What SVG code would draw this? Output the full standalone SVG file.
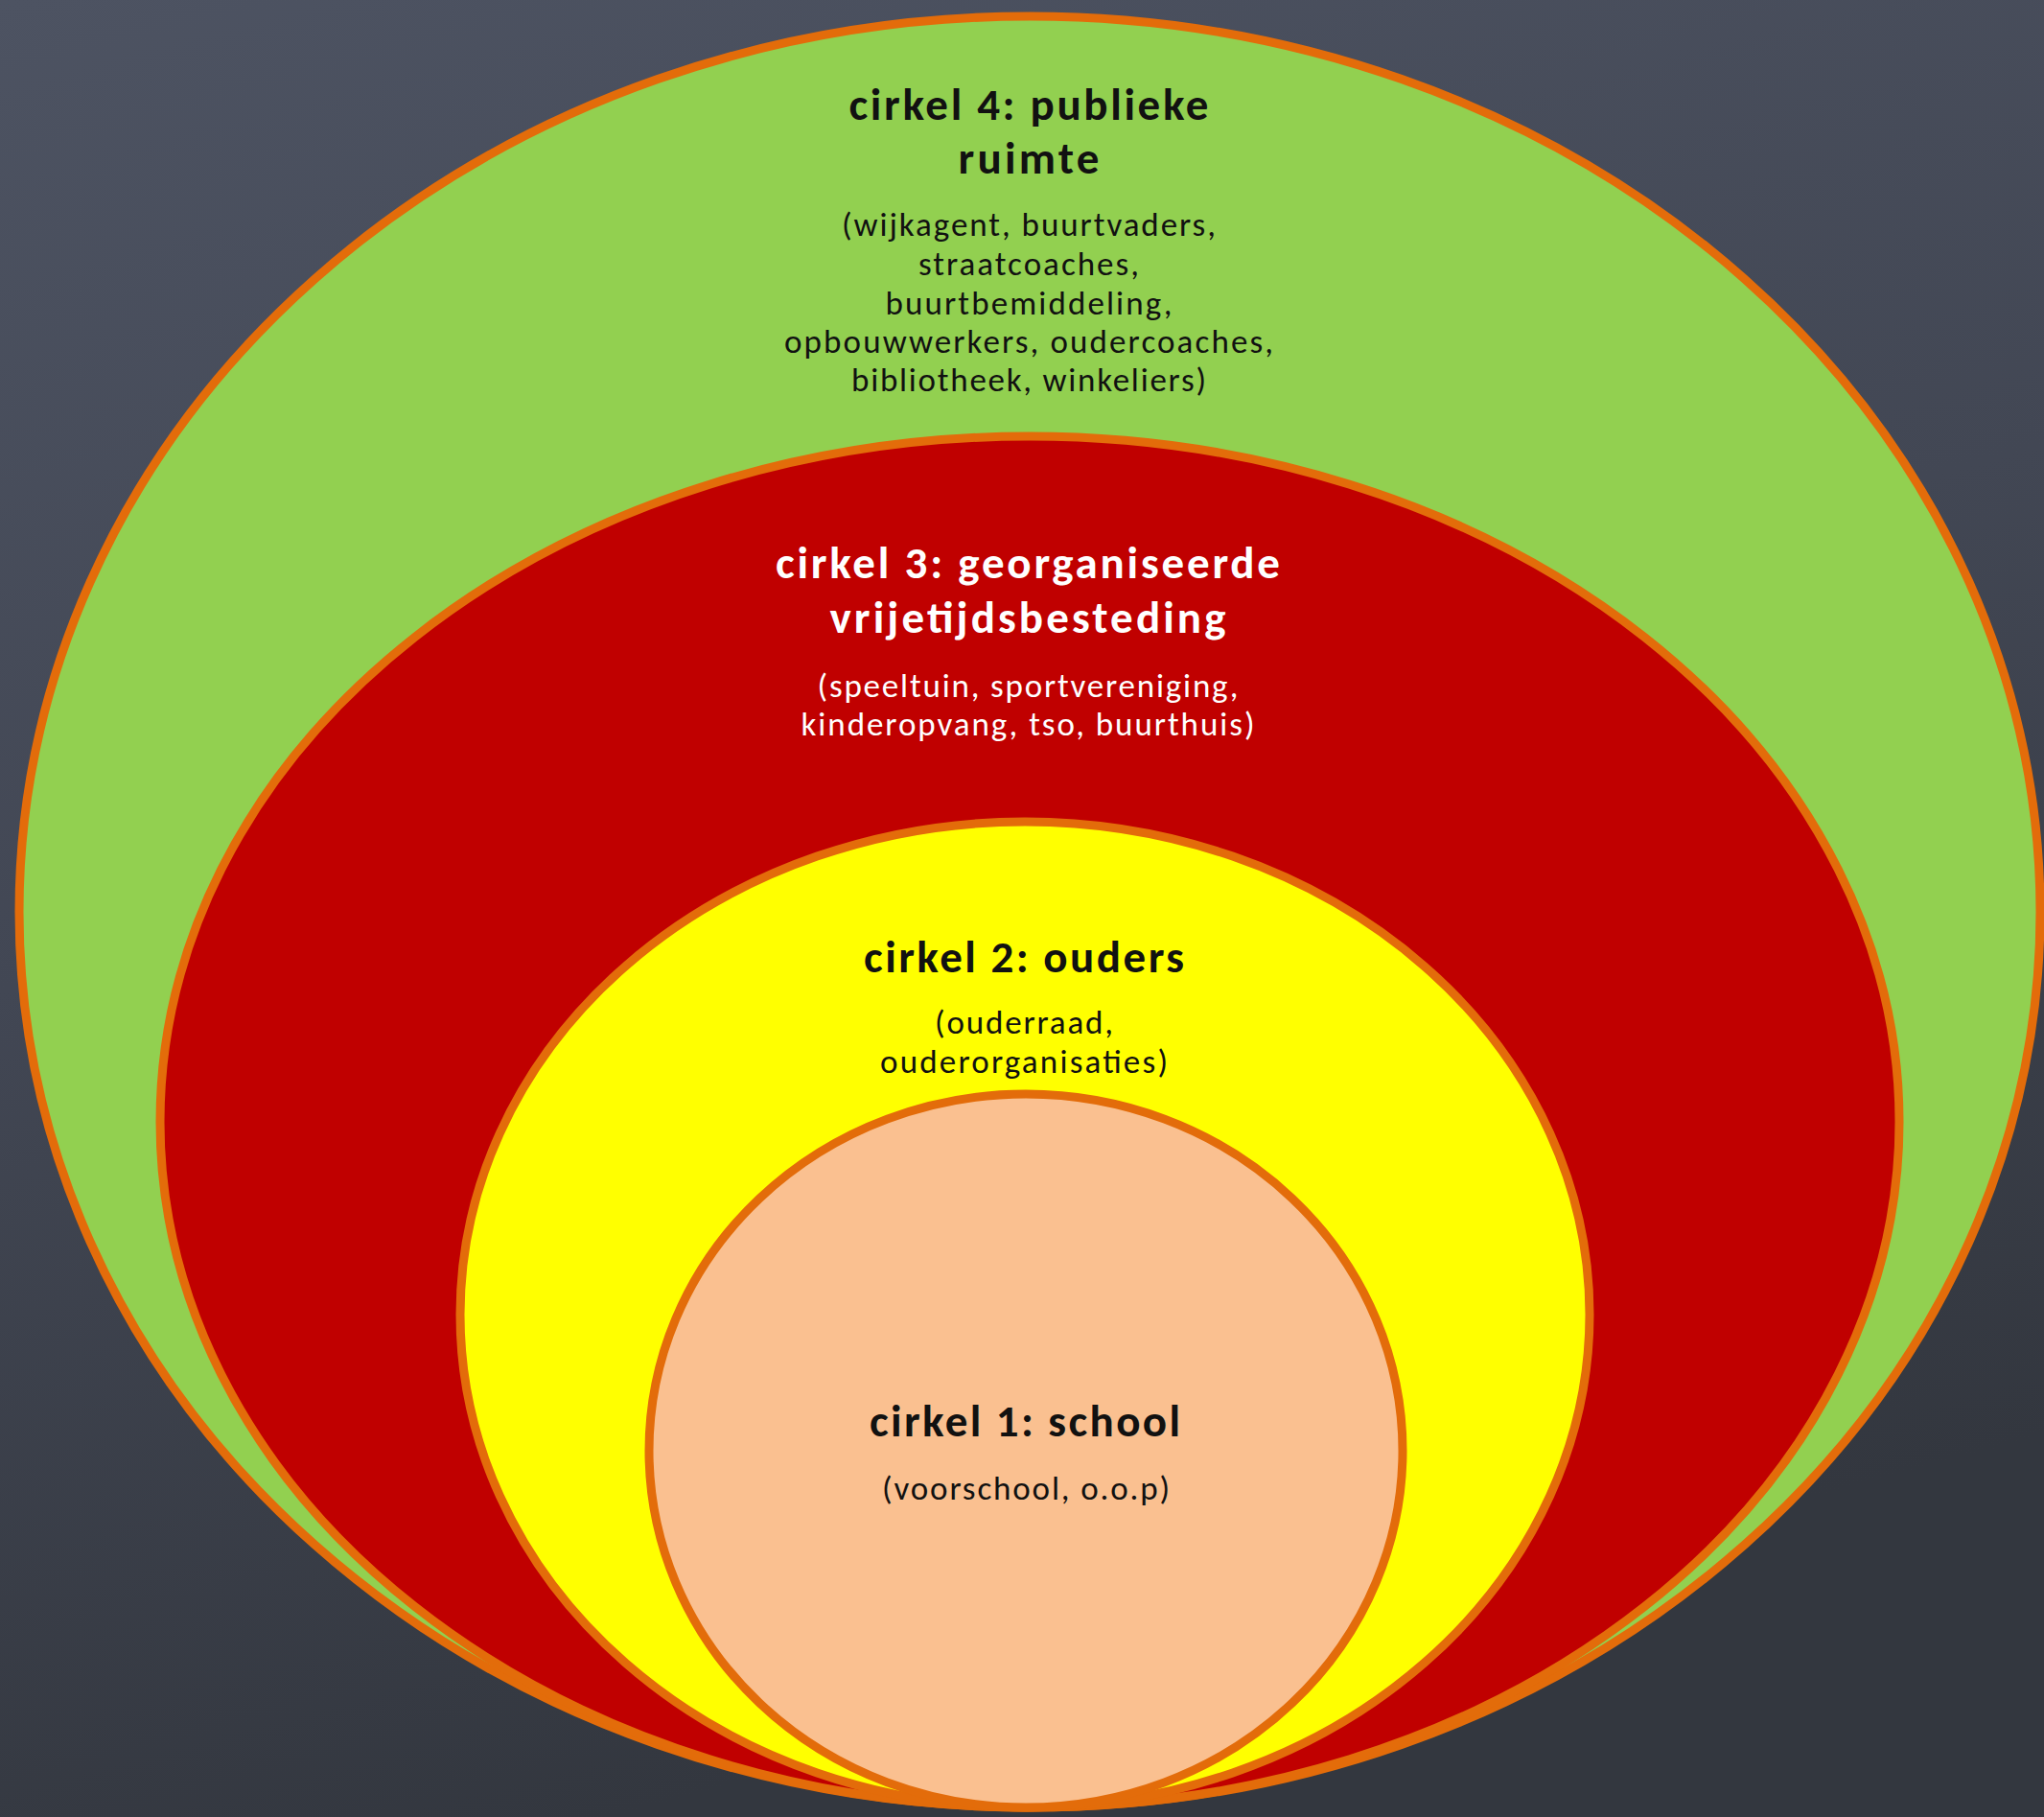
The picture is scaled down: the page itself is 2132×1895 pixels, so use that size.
<svg xmlns="http://www.w3.org/2000/svg" width="2132" height="1895" viewBox="0 0 2132 1895">
<defs>
<linearGradient id="bg" x1="0" y1="0" x2="0.3" y2="1">
<stop offset="0" stop-color="#4d5362"/>
<stop offset="0.5" stop-color="#424754"/>
<stop offset="1" stop-color="#33373f"/>
</linearGradient>
<style>
.ring{stroke:#E36C0A;stroke-width:9}
.h{font-family:Carlito,Lato,"Liberation Sans",sans-serif;font-weight:bold;font-size:47px;text-anchor:middle}
.s{font-family:Carlito,Lato,"Liberation Sans",sans-serif;font-size:35px;text-anchor:middle}
.dark{fill:#111111}
.light{fill:#ffffff}
</style>
</defs>
<rect x="0" y="0" width="2132" height="1895" fill="url(#bg)"/>
<g id="cirkel4">
<ellipse class="ring" cx="1074" cy="951" rx="1054" ry="934" fill="#92D050"/>
<text class="h dark" x="1073" y="125" textLength="375" lengthAdjust="spacing">cirkel 4: publieke</text>
<text class="h dark" x="1073" y="181" textLength="147" lengthAdjust="spacing">ruimte</text>
<text class="s dark" x="1073" y="246" textLength="390" lengthAdjust="spacing">(wijkagent, buurtvaders,</text>
<text class="s dark" x="1073" y="287" textLength="230" lengthAdjust="spacing">straatcoaches,</text>
<text class="s dark" x="1073" y="328" textLength="299" lengthAdjust="spacing">buurtbemiddeling,</text>
<text class="s dark" x="1073" y="368" textLength="510" lengthAdjust="spacing">opbouwwerkers, oudercoaches,</text>
<text class="s dark" x="1073" y="408" textLength="370" lengthAdjust="spacing">bibliotheek, winkeliers)</text>
</g>
<g id="cirkel3">
<ellipse class="ring" cx="1074" cy="1170" rx="907" ry="715" fill="#C00000"/>
<text class="h light" x="1072" y="603" textLength="526" lengthAdjust="spacing">cirkel 3: georganiseerde</text>
<text class="h light" x="1072" y="660" textLength="413" lengthAdjust="spacing">vrijetijdsbesteding</text>
<text class="s light" x="1072" y="727" textLength="439" lengthAdjust="spacing">(speeltuin, sportvereniging,</text>
<text class="s light" x="1072" y="767" textLength="473" lengthAdjust="spacing">kinderopvang, tso, buurthuis)</text>
</g>
<g id="cirkel2">
<ellipse class="ring" cx="1069" cy="1371" rx="589" ry="514" fill="#FFFF00"/>
<text class="h dark" x="1068" y="1014" textLength="334" lengthAdjust="spacing">cirkel 2: ouders</text>
<text class="s dark" x="1068" y="1078" textLength="186" lengthAdjust="spacing">(ouderraad,</text>
<text class="s dark" x="1068" y="1119" textLength="300" lengthAdjust="spacing">ouderorganisaties)</text>
</g>
<g id="cirkel1">
<ellipse class="ring" cx="1070" cy="1513" rx="393" ry="372" fill="#FAC090"/>
<text class="h dark" x="1069" y="1498" textLength="324" lengthAdjust="spacing">cirkel 1: school</text>
<text class="s dark" x="1070" y="1564" textLength="300" lengthAdjust="spacing">(voorschool, o.o.p)</text>
</g>
<g id="connectors"/>
</svg>
